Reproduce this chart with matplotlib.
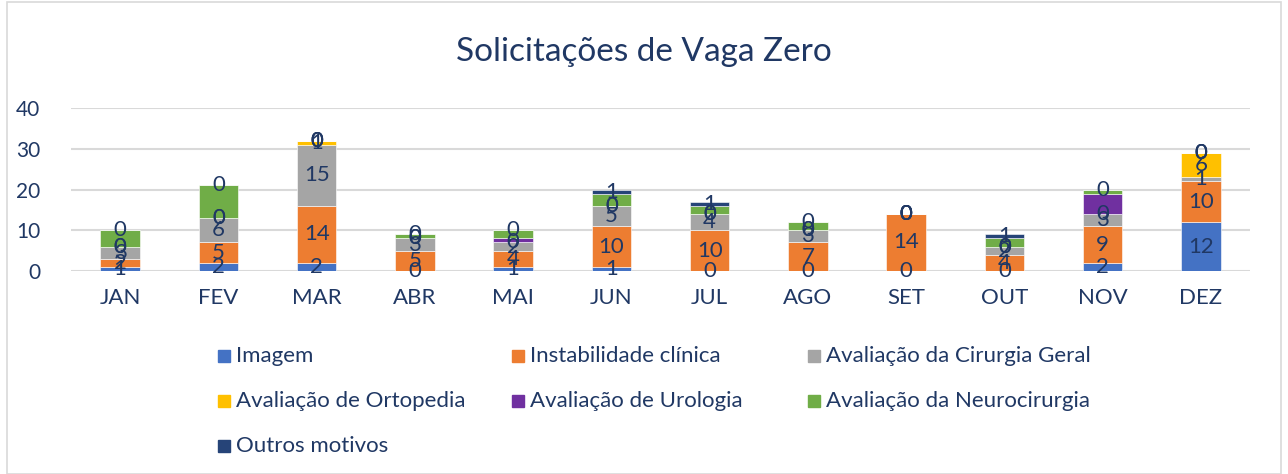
import matplotlib
matplotlib.use('Agg')
import matplotlib.pyplot as plt
from matplotlib.patches import Rectangle
import numpy as np

plt.rcParams['font.family'] = ['Lato', 'DejaVu Sans']

MONTHS = ['JAN', 'FEV', 'MAR', 'ABR', 'MAI', 'JUN', 'JUL', 'AGO', 'SET', 'OUT', 'NOV', 'DEZ']

SERIES = ['Imagem', 'Instabilidade clínica', 'Avaliação da Cirurgia Geral',
          'Avaliação de Ortopedia', 'Avaliação de Urologia', 'Avaliação da Neurocirurgia',
          'Outros motivos']
COLORS = ['#4472C4', '#ED7D31', '#A5A5A5', '#FFC000', '#7030A0', '#70AD47', '#264478']

imagem      = [1, 2, 2, 0, 1, 1, 0, 0, 0, 0, 2, 12]
instab      = [2, 5, 14, 5, 4, 10, 10, 7, 14, 4, 9, 10]
cirurgia    = [3, 6, 15, 3, 2, 5, 4, 3, 0, 2, 3, 1]
ortopedia   = [0, 0, 1, 0, 0, 0, 0, 0, 0, 0, 0, 6]
urologia    = [0, 0, 0, 0, 1, 0, 0, 0, 0, 0, 5, 0]
neuro       = [4, 8, 0, 1, 2, 3, 2, 2, 0, 2, 1, 0]
outros      = [0, 0, 0, 0, 0, 1, 1, 0, 0, 1, 0, 0]

data = [imagem, instab, cirurgia, ortopedia, urologia, neuro, outros]
# series whose non-zero labels are not shown in the original
HIDE_NONZERO = {4, 5}

NAVY = '#203864'

fig = plt.figure(figsize=(12.88, 4.74), dpi=100)
ax = fig.add_axes([71 / 1288, 1 - 271 / 474, (1250 - 71) / 1288, (271 - 108) / 474])

x = np.arange(len(MONTHS))
bottom = np.zeros(len(MONTHS))
for i, vals in enumerate(data):
    vals = np.array(vals, dtype=float)
    ax.bar(x, vals, width=0.4, bottom=bottom, color=COLORS[i],
           edgecolor='white', linewidth=0.4, zorder=3)
    for xi, v, b in zip(x, vals, bottom):
        if v != 0 and i in HIDE_NONZERO:
            continue
        ax.text(xi, b + v / 2, f'{int(v)}', ha='center', va='center',
                fontsize=16, color=NAVY, zorder=5)
    bottom += vals

ax.set_xlim(-0.5, len(MONTHS) - 0.5)
ax.set_ylim(0, 40)
ax.set_yticks([0, 10, 20, 30, 40])
ax.set_xticks(x)
ax.set_xticklabels(MONTHS)
ax.grid(axis='y', color='#D9D9D9', linewidth=1.5, zorder=0)
ax.set_axisbelow(True)
for s in ax.spines.values():
    s.set_visible(False)
ax.tick_params(axis='both', length=0, labelsize=15, colors=NAVY)
ax.tick_params(axis='x', labelsize=16, pad=12)
ax.tick_params(axis='y', pad=22)

fig.text(0.5, 1 - 52 / 474, 'Solicitações de Vaga Zero', ha='center', va='center',
         fontsize=24, color=NAVY)

# legend, row-major, three columns
col_x = [218, 512, 808]
row_y = [356, 401, 446]
for i, name in enumerate(SERIES):
    r, c = divmod(i, 3)
    mx, my = col_x[c], row_y[r]
    fig.patches.append(Rectangle((mx / 1288, 1 - (my + 6) / 474), 12 / 1288, 12 / 474,
                                 transform=fig.transFigure, color=COLORS[i]))
    fig.text((mx + 18) / 1288, 1 - my / 474, name, ha='left', va='center',
             fontsize=16, color=NAVY)

# outer border
fig.patches.append(Rectangle((7 / 1288, 0.5 / 474), 1274 / 1288, 472 / 474,
                             transform=fig.transFigure, fill=False,
                             edgecolor='#D9D9D9', linewidth=1.2))

fig.savefig('out.png', dpi=100)
